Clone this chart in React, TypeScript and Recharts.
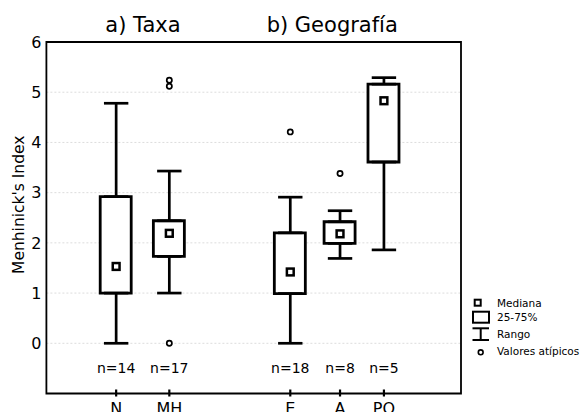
import {
  ComposedChart,
  XAxis,
  YAxis,
  CartesianGrid,
  Bar,
  Scatter,
  ErrorBar,
  ReferenceArea,
  Legend,
} from "recharts";

const categories = ["N", "MH", "E", "A", "PQ"];
const minValues = [0, 1.0, 0, 1.69, 1.86];
const q1Values = [1.0, 1.73, 0.99, 1.99, 3.61];
const medianValues = [1.53, 2.19, 1.42, 2.18, 4.83];
const q3Values = [2.92, 2.44, 2.2, 2.42, 5.16];
const maxValues = [4.78, 3.43, 2.91, 2.64, 5.29];
const sampleSizes = [14, 17, 18, 8, 5];

const outlierCats = ["MH", "MH", "MH", "E", "A"];
const outlierValues = [0, 5.12, 5.24, 4.21, 3.38];

const groupTitles = ["a) Taxa", "b) Geografía"];
const yTicks = [0, 1, 2, 3, 4, 5, 6];
const legendLabels = ["Mediana", "25-75%", "Rango", "Valores atípicos"];

// layout only: boxes sit unevenly along the x axis in the original
const X_POS = [1.43, 2.52, 5.0, 6.02, 6.92];
const TITLE_POS = [1.98, 5.86];
const X_DOMAIN = [0, 8.5];
const N_ROW = -0.5;

const FONT = "'DejaVu Sans', sans-serif";

const stats = categories.map((cat, i) => ({
  x: X_POS[i],
  cat,
  q1: q1Values[i],
  med: medianValues[i],
  q3: q3Values[i],
  n: sampleSizes[i],
  box: [q1Values[i], q3Values[i]],
  lowErr: [q1Values[i] - minValues[i], 0],
  highErr: [0, maxValues[i] - q3Values[i]],
}));

const outliers = outlierCats.map((c, i) => ({
  x: X_POS[categories.indexOf(c)],
  y: outlierValues[i],
}));

function Empty() {
  return <g />;
}

function MedianMark(props: any) {
  const { cx, cy } = props;
  return (
    <rect x={cx - 3.4} y={cy - 3.4} width={6.8} height={6.8} fill="#fff" stroke="#000" strokeWidth={2.5} />
  );
}

function OutlierMark(props: any) {
  const { cx, cy } = props;
  return <circle cx={cx} cy={cy} r={2.6} fill="#fff" stroke="#000" strokeWidth={1.7} />;
}

function CountLabel(props: any) {
  const { cx, cy, payload } = props;
  return (
    <text x={cx} y={cy} textAnchor="middle" dominantBaseline="central" fontSize={14} fontFamily={FONT} fill="#000">
      n={payload.n}
    </text>
  );
}

function CatTick(props: any) {
  const { x, y, payload } = props;
  const i = X_POS.indexOf(payload.value);
  return (
    <g>
      <line x1={x} x2={x} y1={y - 4} y2={y + 3} stroke="#000" strokeWidth={2.2} />
      <text x={x} y={y + 20} textAnchor="middle" fontSize={16} fontFamily={FONT} fill="#000">
        {categories[i]}
      </text>
    </g>
  );
}

function TitleTick(props: any) {
  const { x, y, payload } = props;
  const i = TITLE_POS.indexOf(payload.value);
  return (
    <text x={x} y={y - 10} textAnchor="middle" fontSize={21} fontFamily={FONT} fill="#000">
      {groupTitles[i]}
    </text>
  );
}

function YTitle(props: any) {
  const vb = props.viewBox || { x: 0, y: 42, height: 351 };
  const x = vb.x + 18.5;
  const y = vb.y + vb.height / 2 - 13;
  return (
    <text
      x={x}
      y={y}
      transform={`rotate(-90, ${x}, ${y})`}
      textAnchor="middle"
      dominantBaseline="central"
      fontSize={15.5}
      fontFamily={FONT}
      fill="#000"
    >
      Menhinick's Index
    </text>
  );
}

function LegendBox() {
  const tx = 28;
  const rows = [10.7, 25.3, 42, 59];
  return (
    <svg width={116} height={72} style={{ display: "block", overflow: "visible" }}>
      <rect x={12.7 - 3} y={rows[0] - 3} width={6} height={6} fill="#fff" stroke="#000" strokeWidth={2} />
      <rect x={8} y={19.7} width={16} height={11} fill="#fff" stroke="#000" strokeWidth={2} />
      <g stroke="#000" strokeWidth={2}>
        <line x1={7.5} x2={24} y1={36.3} y2={36.3} />
        <line x1={7.5} x2={24} y1={48} y2={48} />
        <line x1={15.7} x2={15.7} y1={36.3} y2={48} />
      </g>
      <circle cx={15.7} cy={rows[3] + 1.3} r={2.4} fill="#fff" stroke="#000" strokeWidth={1.6} />
      {legendLabels.map((l, i) => (
        <text
          key={l}
          x={tx + 4}
          y={rows[i]}
          dominantBaseline="central"
          fontSize={10.5}
          fontFamily={FONT}
          fill="#000"
        >
          {l}
        </text>
      ))}
    </svg>
  );
}

export default function App() {
  return (
    <div style={{ position: "absolute", left: 0, top: 0, width: 582, height: 412, background: "#fff" }}>
      <ComposedChart
        width={582}
        height={412}
        data={stats}
        margin={{ top: 0, right: 121, bottom: 0, left: 0 }}
      >
        <CartesianGrid vertical={false} stroke="#dcdcdc" strokeDasharray="2 2" />
        <XAxis
          xAxisId={0}
          dataKey="x"
          type="number"
          domain={X_DOMAIN}
          ticks={X_POS}
          interval={0}
          height={18.5}
          axisLine={false}
          tickLine={false}
          tickSize={0}
          tickMargin={0}
          tick={<CatTick />}
        />
        <XAxis
          xAxisId="top"
          orientation="top"
          dataKey="x"
          type="number"
          domain={X_DOMAIN}
          ticks={TITLE_POS}
          interval={0}
          height={42}
          axisLine={false}
          tickLine={false}
          tickSize={0}
          tickMargin={0}
          tick={<TitleTick />}
        />
        <YAxis
          type="number"
          domain={[-1, 6]}
          ticks={yTicks}
          interval={0}
          width={46.4}
          axisLine={false}
          tickLine={false}
          tickSize={0}
          tickMargin={5}
          tick={{ fontSize: 16, fill: "#000", fontFamily: FONT }}
          label={<YTitle />}
        />
        <ReferenceArea
          x1={X_DOMAIN[0]}
          x2={X_DOMAIN[1]}
          y1={-1}
          y2={6}
          fill="none"
          fillOpacity={0}
          stroke="#000"
          strokeWidth={1.8}
        />
        <Scatter data={stats} dataKey="q1" shape={<Empty />} isAnimationActive={false} legendType="none">
          <ErrorBar dataKey="lowErr" direction="y" width={12.2} stroke="#000" strokeWidth={2.7} />
        </Scatter>
        <Scatter data={stats} dataKey="q3" shape={<Empty />} isAnimationActive={false} legendType="none">
          <ErrorBar dataKey="highErr" direction="y" width={12.2} stroke="#000" strokeWidth={2.7} />
        </Scatter>
        <Bar
          dataKey="box"
          barSize={31}
          fill="#fff"
          stroke="#000"
          strokeWidth={2.8}
          isAnimationActive={false}
          legendType="none"
        />
        <Scatter data={stats} dataKey="med" shape={<MedianMark />} isAnimationActive={false} legendType="none" />
        <Scatter data={outliers} dataKey="y" shape={<OutlierMark />} isAnimationActive={false} legendType="none" />
        <Scatter
          data={stats}
          dataKey={() => N_ROW}
          shape={<CountLabel />}
          isAnimationActive={false}
          legendType="none"
        />
        <Legend
          layout="vertical"
          align="center"
          verticalAlign="middle"
          content={<LegendBox />}
          wrapperStyle={{ left: 465, top: 292, width: 116, height: 72 }}
        />
      </ComposedChart>
    </div>
  );
}
